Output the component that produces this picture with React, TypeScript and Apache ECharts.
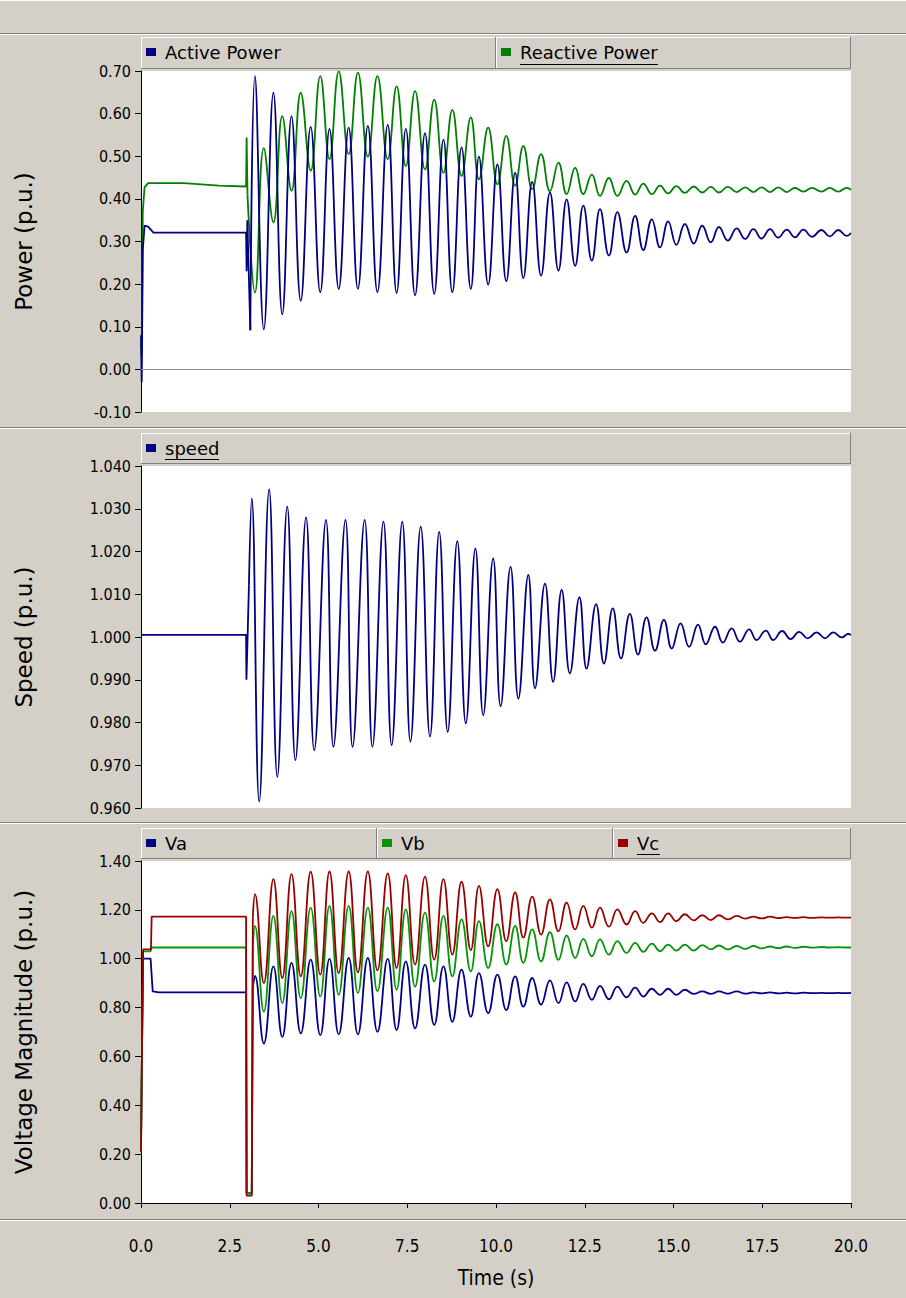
import React, { useEffect, useRef } from "react";
import * as echarts from "echarts";

// ---------- axis ticks ----------
const timeTicks = [0, 2.5, 5, 7.5, 10, 12.5, 15, 17.5, 20];
const powerTicks = [-0.1, 0, 0.1, 0.2, 0.3, 0.4, 0.5, 0.6, 0.7];
const speedTicks = [0.96, 0.97, 0.98, 0.99, 1.0, 1.01, 1.02, 1.03, 1.04];
const voltTicks = [0, 0.2, 0.4, 0.6, 0.8, 1.0, 1.2, 1.4];

// ---------- Power panel ----------
const activePre: [number, number][] = [
  [0, 0.08], [0.02, -0.03], [0.05, 0.28], [0.1, 0.337], [0.2, 0.335], [0.35, 0.321],
  [2.96, 0.321], [2.975, 0.23], [2.995, 0.35], [3.08, 0.092],
];
const reactivePre: [number, number][] = [
  [0, 0.06], [0.02, 0.03], [0.05, 0.37], [0.1, 0.427], [0.2, 0.437], [1.2, 0.437],
  [2.2, 0.431], [2.96, 0.429], [2.975, 0.544], [3.0, 0.41],
];
// times of the swing extrema (active-power peaks / troughs, voltages in phase)
const oscTimes = [
  3.21, 3.46, 3.73, 3.98, 4.24, 4.5, 4.78, 5.05, 5.31, 5.57,
  5.85, 6.11, 6.39, 6.66, 6.95, 7.2, 7.46, 7.72, 8.0, 8.26,
  8.52, 8.77, 9.03, 9.29, 9.52, 9.78, 10.04, 10.29, 10.54, 10.77,
  11.02, 11.27, 11.52, 11.76, 11.99, 12.23, 12.46, 12.7, 12.93, 13.18,
  13.42, 13.68, 13.92, 14.15, 14.39, 14.62, 14.85, 15.08, 15.32, 15.57,
  15.81, 16.05, 16.28, 16.53, 16.78, 17.02, 17.25, 17.48, 17.72, 17.95,
  18.19, 18.42, 18.66, 18.9, 19.17, 19.4, 19.64, 19.88,
];
const activeOsc = [
  0.688, 0.094, 0.649, 0.129, 0.594, 0.161, 0.569, 0.181, 0.564, 0.189,
  0.567, 0.189, 0.571, 0.181, 0.574, 0.179, 0.564, 0.174, 0.554, 0.177,
  0.539, 0.181, 0.521, 0.189, 0.499, 0.199, 0.481, 0.207, 0.461, 0.214,
  0.44, 0.22, 0.415, 0.232, 0.399, 0.243, 0.384, 0.255, 0.376, 0.267,
  0.369, 0.274, 0.36, 0.28, 0.352, 0.286, 0.347, 0.292, 0.341, 0.295,
  0.337, 0.298, 0.334, 0.302, 0.331, 0.306, 0.329, 0.307, 0.329, 0.309,
  0.328, 0.31, 0.328, 0.311, 0.327, 0.312, 0.327, 0.313,
];
const reactiveOsc = [
  0.18, 0.519, 0.345, 0.594, 0.419, 0.649, 0.466, 0.688, 0.493, 0.699,
  0.505, 0.696, 0.499, 0.688, 0.493, 0.664, 0.477, 0.653, 0.469, 0.633,
  0.461, 0.609, 0.454, 0.591, 0.446, 0.567, 0.434, 0.548, 0.431, 0.524,
  0.423, 0.505, 0.418, 0.485, 0.411, 0.473, 0.411, 0.457, 0.407, 0.449,
  0.407, 0.442, 0.41, 0.436, 0.411, 0.431, 0.413, 0.43, 0.414, 0.429,
  0.415, 0.428, 0.415, 0.428, 0.416, 0.427, 0.416, 0.427, 0.416, 0.427,
  0.416, 0.426, 0.417, 0.426, 0.417, 0.426, 0.417, 0.426,
];
const activeEnd: [number, number][] = [[20, 0.32]];
const reactiveEnd: [number, number][] = [[20, 0.421]];

// ---------- Speed panel ----------
const speedPre: [number, number][] = [
  [0, 1.0005], [2.96, 1.0005], [2.97, 0.99], [2.99, 0.996], [3.04, 1.012],
];
const speedTimes = [
  3.12, 3.33, 3.61, 3.84, 4.12, 4.35, 4.65, 4.88, 5.21, 5.42,
  5.76, 5.96, 6.3, 6.52, 6.83, 7.06, 7.36, 7.59, 7.88, 8.14,
  8.4, 8.64, 8.91, 9.15, 9.42, 9.64, 9.92, 10.13, 10.41, 10.63,
  10.91, 11.1, 11.38, 11.61, 11.85, 12.08, 12.35, 12.55, 12.82, 13.04,
  13.29, 13.52, 13.77, 14.0, 14.24, 14.48, 14.73, 14.95, 15.2, 15.44,
  15.69, 15.91, 16.17, 16.39, 16.64, 16.87, 17.13, 17.34, 17.6, 17.81,
  18.06, 18.3, 18.54, 18.78, 19.03, 19.27, 19.5, 19.74, 19.92,
];
const speedOsc = [
  1.0324, 0.9615, 1.0345, 0.9673, 1.0305, 0.9712, 1.028, 0.9735, 1.0274, 0.9743,
  1.0274, 0.9743, 1.0274, 0.9743, 1.027, 0.9747, 1.027, 0.9755, 1.0258, 0.9767,
  1.0246, 0.9778, 1.0224, 0.9798, 1.0207, 0.9817, 1.0184, 0.9838, 1.0164, 0.9856,
  1.0145, 0.988, 1.0125, 0.9895, 1.011, 0.9915, 1.0093, 0.9926, 1.0077, 0.9938,
  1.0067, 0.995, 1.0054, 0.9959, 1.0046, 0.9968, 1.004, 0.9973, 1.0032, 0.9977,
  1.0029, 0.9983, 1.0024, 0.9987, 1.002, 0.9989, 1.0018, 0.9993, 1.0015, 0.9993,
  1.0014, 0.9995, 1.0012, 0.9997, 1.0011, 0.9997, 1.0011, 0.9999, 1.0007,
];
const speedEnd: [number, number][] = [[20, 1.0005]];

// ---------- Voltage panel ----------
const vaPre: [number, number][] = [
  [0, 0.21], [0.03, 0.66], [0.06, 1.0], [0.27, 1.0], [0.33, 0.866], [0.5, 0.862],
  [2.96, 0.862], [2.975, 0.04], [3.12, 0.04], [3.15, 0.88],
];
const vbPre: [number, number][] = [
  [0, 0.21], [0.03, 0.66], [0.06, 1.03], [0.27, 1.03], [0.3, 1.046],
  [2.96, 1.046], [2.975, 0.04], [3.12, 0.04], [3.15, 1.05],
];
const vcPre: [number, number][] = [
  [0, 0.21], [0.03, 0.66], [0.06, 1.038], [0.28, 1.038], [0.3, 1.172],
  [2.96, 1.172], [2.975, 0.03], [3.12, 0.03], [3.15, 1.17],
];
const vaOsc = [
  0.93, 0.653, 0.969, 0.68, 0.983, 0.694, 0.996, 0.687, 0.999, 0.69,
  1.003, 0.69, 1.003, 0.701, 0.999, 0.708, 0.989, 0.715, 0.976, 0.729,
  0.969, 0.742, 0.955, 0.763, 0.941, 0.777, 0.935, 0.79, 0.928, 0.804,
  0.921, 0.812, 0.911, 0.818, 0.903, 0.825, 0.897, 0.832, 0.889, 0.834,
  0.886, 0.842, 0.882, 0.845, 0.877, 0.852, 0.877, 0.852, 0.873, 0.856,
  0.866, 0.856, 0.866, 0.857, 0.866, 0.857, 0.862, 0.858, 0.862, 0.858,
  0.861, 0.858, 0.861, 0.859, 0.86, 0.859, 0.86, 0.859,
];
const vbOsc = [
  1.134, 0.783, 1.175, 0.818, 1.195, 0.838, 1.209, 0.845, 1.216, 0.852,
  1.216, 0.859, 1.209, 0.866, 1.209, 0.873, 1.202, 0.886, 1.189, 0.907,
  1.175, 0.928, 1.161, 0.948, 1.154, 0.962, 1.141, 0.976, 1.134, 0.983,
  1.12, 0.989, 1.109, 0.995, 1.095, 1.003, 1.081, 1.01, 1.079, 1.017,
  1.072, 1.024, 1.065, 1.028, 1.062, 1.031, 1.058, 1.033, 1.058, 1.033,
  1.056, 1.038, 1.054, 1.038, 1.052, 1.04, 1.052, 1.042, 1.05, 1.043,
  1.05, 1.044, 1.049, 1.045, 1.048, 1.046, 1.047, 1.046,
];
const vcOsc = [
  1.264, 0.9, 1.326, 0.921, 1.346, 0.928, 1.356, 0.935, 1.357, 0.941,
  1.357, 0.944, 1.357, 0.952, 1.349, 0.962, 1.342, 0.976, 1.336, 0.996,
  1.326, 1.017, 1.315, 1.035, 1.298, 1.051, 1.285, 1.072, 1.271, 1.086,
  1.254, 1.099, 1.243, 1.112, 1.23, 1.12, 1.216, 1.127, 1.209, 1.131,
  1.202, 1.14, 1.195, 1.147, 1.186, 1.15, 1.186, 1.154, 1.182, 1.157,
  1.178, 1.158, 1.178, 1.161, 1.175, 1.164, 1.172, 1.165, 1.172, 1.166,
  1.17, 1.167, 1.17, 1.167, 1.169, 1.168, 1.169, 1.168,
];
const vaEnd: [number, number][] = [[20, 0.86]];
const vbEnd: [number, number][] = [[20, 1.046]];
const vcEnd: [number, number][] = [[20, 1.168]];

// ---------- colours ----------
const C_ACTIVE = "#000080";
const C_REACTIVE = "#008000";
const C_SPEED = "#000080";
const C_VA = "#000088";
const C_VB = "#089408";
const C_VC = "#990000";
const BG = "#d4d0c8";

const AXIS_FONT = "'Liberation Sans Narrow', 'DejaVu Sans Condensed', 'Liberation Sans', sans-serif";
const LEGEND_FONT = "'DejaVu Sans', sans-serif";

function pairs(ts: number[], vs: number[]): [number, number][] {
  return ts.map((t, i) => [t, vs[i]]);
}

function makeSeries(
  name: string,
  color: string,
  idx: number,
  pre: [number, number][],
  times: number[],
  vals: number[],
  end: [number, number][],
  z: number,
  extra: any = {}
) {
  const common = {
    type: "line",
    name,
    xAxisIndex: idx,
    yAxisIndex: idx,
    showSymbol: false,
    symbol: "none",
    color,
    lineStyle: { color, width: 1.8 },
    emphasis: { disabled: true },
    silent: true,
    z,
  };
  return [
    { ...common, ...extra, data: pre, smooth: false },
    {
      ...common,
      data: [pre[pre.length - 1], ...pairs(times, vals), ...end],
      smooth: 0.45,
    },
  ];
}

function bevel(x1: number, y1: number, x2: number, y2: number): any[] {
  return [
    { type: "rect", shape: { x: x1, y: y1, width: x2 - x1, height: y2 - y1 }, style: { fill: BG }, silent: true },
    { type: "line", shape: { x1, y1: y1 + 0.5, x2, y2: y1 + 0.5 }, style: { stroke: "#ffffff", lineWidth: 1 }, silent: true },
    { type: "line", shape: { x1: x1 + 0.5, y1, x2: x1 + 0.5, y2 }, style: { stroke: "#ffffff", lineWidth: 1 }, silent: true },
    { type: "line", shape: { x1, y1: y2 - 0.5, x2, y2: y2 - 0.5 }, style: { stroke: "#808080", lineWidth: 1 }, silent: true },
    { type: "line", shape: { x1: x2 - 0.5, y1, x2: x2 - 0.5, y2 }, style: { stroke: "#808080", lineWidth: 1 }, silent: true },
  ];
}

function etch(y: number): any[] {
  return [
    { type: "line", shape: { x1: 0, y1: y + 0.5, x2: 906, y2: y + 0.5 }, style: { stroke: "#808080", lineWidth: 1 }, silent: true },
    { type: "line", shape: { x1: 0, y1: y + 1.5, x2: 906, y2: y + 1.5 }, style: { stroke: "#ffffff", lineWidth: 1 }, silent: true },
  ];
}

function underline(x1: number, x2: number, y: number) {
  return { type: "line", shape: { x1, y1: y + 0.5, x2, y2: y + 0.5 }, style: { stroke: "#000", lineWidth: 1 }, silent: true, z: 10 };
}

const GRIDS = [
  { left: 141, top: 71, width: 710, height: 341 },
  { left: 141, top: 466, width: 710, height: 342 },
  { left: 141, top: 861, width: 710, height: 342 },
];

function yAxis(idx: number, ticks: number[], decimals: number, name: string, gap: number) {
  return {
    type: "value",
    gridIndex: idx,
    min: ticks[0],
    max: ticks[ticks.length - 1],
    interval: Math.round((ticks[1] - ticks[0]) * 1000) / 1000,
    name,
    nameLocation: "middle",
    nameGap: gap,
    nameRotate: 90,
    nameTextStyle: { fontFamily: LEGEND_FONT, fontSize: 23, color: "#000" },
    axisLine: { show: true, lineStyle: { color: "#000", width: 1 } },
    axisTick: { show: true, length: 6, lineStyle: { color: "#000" } },
    axisLabel: {
      fontFamily: AXIS_FONT,
      fontSize: 16,
      color: "#000",
      margin: 10,
      formatter: (v: number) => v.toFixed(decimals),
    },
    splitLine: { show: false },
  };
}

function xAxis(idx: number, visible: boolean) {
  return {
    type: "value",
    gridIndex: idx,
    min: timeTicks[0],
    max: timeTicks[timeTicks.length - 1],
    interval: timeTicks[1] - timeTicks[0],
    show: visible,
    offset: visible ? 21 : 0,
    name: visible ? "Time (s)" : "",
    nameLocation: "middle",
    nameGap: 43,
    nameTextStyle: { fontFamily: AXIS_FONT, fontSize: 21, color: "#000" },
    axisLine: { show: true, lineStyle: { color: "#000", width: 1 } },
    axisTick: { show: true, length: 5, lineStyle: { color: "#000" } },
    axisLabel: {
      fontFamily: AXIS_FONT,
      fontSize: 17,
      color: "#000",
      margin: 13,
      formatter: (v: number) => v.toFixed(1),
    },
    splitLine: { show: false },
  };
}

function legend(name: string, left: number, top: number) {
  return {
    data: [name],
    left,
    top,
    padding: 0,
    icon: "rect",
    itemWidth: 10,
    itemHeight: 8,
    selectedMode: false,
    textStyle: { fontFamily: LEGEND_FONT, fontSize: 18, color: "#000", padding: [0, 0, 0, 4] },
  };
}

export default function App() {
  const ref = useRef<HTMLDivElement>(null);
  useEffect(() => {
    document.body.style.margin = "0";
    const chart = echarts.init(ref.current!, null, { renderer: "svg" });
    const graphicEls: any[] = [
      { type: "line", shape: { x1: 0, y1: 0.5, x2: 906, y2: 0.5 }, style: { stroke: "#ffffff", lineWidth: 1 }, silent: true },
      ...etch(33),
      ...etch(427),
      ...etch(822),
      ...etch(1219),
      ...bevel(141, 37, 496, 69),
      ...bevel(496, 37, 851, 69),
      ...bevel(141, 433, 851, 464),
      ...bevel(141, 828, 377, 859),
      ...bevel(377, 828, 613, 859),
      ...bevel(613, 828, 851, 859),
      underline(520, 658, 64),
      underline(165, 219, 459),
      underline(637, 660, 854),
    ];
    const option: any = {
      animation: false,
      backgroundColor: BG,
      grid: GRIDS.map((g) => ({ ...g, show: true, backgroundColor: "#ffffff", borderWidth: 0 })),
      xAxis: [xAxis(0, false), xAxis(1, false), xAxis(2, true)],
      yAxis: [
        yAxis(0, powerTicks, 2, "Power (p.u.)", 106),
        yAxis(1, speedTicks, 3, "Speed (p.u.)", 106),
        yAxis(2, voltTicks, 2, "Voltage Magnitude (p.u.)", 106),
      ],
      legend: [
        legend("Active Power", 146, 43),
        legend("Reactive Power", 501, 43),
        legend("speed", 146, 439),
        legend("Va", 146, 834),
        legend("Vb", 382, 834),
        legend("Vc", 618, 834),
      ],
      graphic: { elements: graphicEls },
      series: [
        ...makeSeries("Reactive Power", C_REACTIVE, 0, reactivePre, oscTimes, reactiveOsc, reactiveEnd, 2, {
          markLine: {
            silent: true,
            symbol: "none",
            label: { show: false },
            lineStyle: { color: "#8c8c8c", type: "solid", width: 1 },
            data: [{ yAxis: 0 }],
          },
        }),
        ...makeSeries("Active Power", C_ACTIVE, 0, activePre, oscTimes, activeOsc, activeEnd, 3),
        ...makeSeries("speed", C_SPEED, 1, speedPre, speedTimes, speedOsc, speedEnd, 3),
        ...makeSeries("Va", C_VA, 2, vaPre, oscTimes, vaOsc, vaEnd, 3),
        ...makeSeries("Vb", C_VB, 2, vbPre, oscTimes, vbOsc, vbEnd, 4),
        ...makeSeries("Vc", C_VC, 2, vcPre, oscTimes, vcOsc, vcEnd, 5),
      ],
    };
    chart.setOption(option);
    return () => chart.dispose();
  }, []);
  return <div ref={ref} style={{ width: 906, height: 1298 }} />;
}
